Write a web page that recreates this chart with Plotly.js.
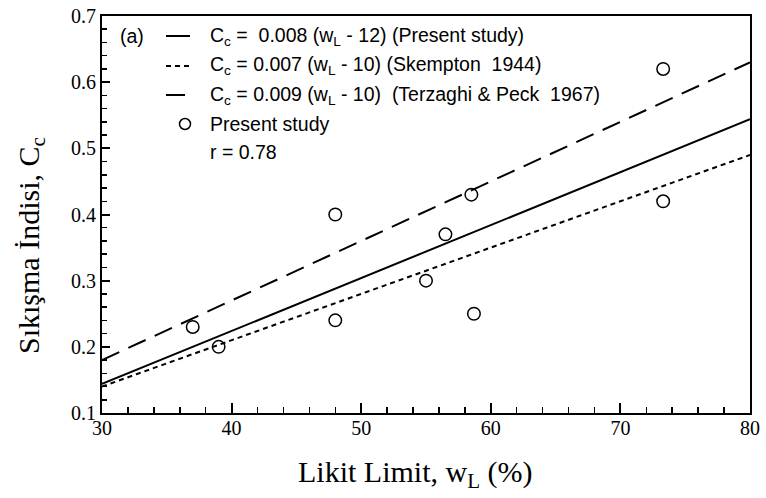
<!DOCTYPE html>
<html>
<head>
<meta charset="utf-8">
<script src="https://cdn.plot.ly/plotly-3.0.1.min.js"></script>
<style>
  html, body { margin: 0; padding: 0; background: #fff; }
  #chart { width: 766px; height: 498px; }
</style>
</head>
<body>
<div id="chart"></div>
<script>
// Measured points: liquid limit (%) vs compression index
const liquidLimit = [37, 39, 48, 48, 55, 56.5, 58.5, 58.7, 73.3, 73.3];
const compIndex   = [0.23, 0.20, 0.40, 0.24, 0.30, 0.37, 0.43, 0.25, 0.62, 0.42];

// Correlation lines, evaluated at the ends of the plotted range
const lineX        = [30, 80];
const presentY     = [0.144, 0.544];  // Cc = 0.008 (wL - 12)
const skemptonY    = [0.140, 0.490];  // Cc = 0.007 (wL - 10)
const terzaghiY    = [0.180, 0.630];  // Cc = 0.009 (wL - 10)

// Legend rows
const legendLabels = [
  'C<sub>c</sub> =  0.008 (w<sub>L</sub> - 12) (Present study)',
  'C<sub>c</sub> = 0.007 (w<sub>L</sub> - 10) (Skempton  1944)',
  'C<sub>c</sub> = 0.009 (w<sub>L</sub> - 10)  (Terzaghi &amp; Peck  1967)',
  'Present study',
  'r = 0.78'
];

const xTitle = 'Likit Limit, w<sub>L</sub> (%)';
const yTitle = 'Sıkışma İndisi, C<sub>c</sub>';

// Page geometry (pixels)
const FIG_W = 766, FIG_H = 498;
const M = { l: 102, r: 16, t: 16, b: 85 };
const PW = FIG_W - M.l - M.r;
const PH = FIG_H - M.t - M.b;
const px = v => (v - M.l) / PW;            // pixel x -> paper x
const py = v => (M.t + PH - v) / PH;       // pixel y -> paper y

const serif = 'Liberation Serif, Times New Roman, serif';
const sans  = 'Liberation Sans, Arial, Helvetica, sans-serif';

const SHORT_DASH = '5px,4px';
const LONG_DASH  = '19px,10px';

const traces = [
  { x: lineX, y: presentY, mode: 'lines', line: { color: '#000', width: 2 }, hoverinfo: 'skip' },
  { x: lineX, y: skemptonY, mode: 'lines', line: { color: '#000', width: 2, dash: SHORT_DASH }, hoverinfo: 'skip' },
  { x: lineX, y: terzaghiY, mode: 'lines', line: { color: '#000', width: 2, dash: LONG_DASH }, hoverinfo: 'skip' },
  { x: liquidLimit, y: compIndex, mode: 'markers',
    marker: { symbol: 'circle-open', size: 12.5, color: '#000', line: { width: 1.5, color: '#000' } } }
];

// Legend rows' vertical centres (pixels)
const rowY = [36, 66, 95, 124, 152];
const sampleX0 = 166, sampleX1 = 190, textX = 208;
const sampleDash = ['solid', SHORT_DASH, LONG_DASH];

const shapes = [];
sampleDash.forEach((d, i) => {
  shapes.push({
    type: 'line', xref: 'paper', yref: 'paper',
    x0: px(sampleX0), x1: px(sampleX1), y0: py(rowY[i]), y1: py(rowY[i]),
    line: { color: '#000', width: 2, dash: d }
  });
});
shapes.push({
  type: 'circle', xref: 'paper', yref: 'paper',
  xsizemode: 'pixel', ysizemode: 'pixel',
  xanchor: px(185), yanchor: py(rowY[3]),
  x0: -5.5, x1: 5.5, y0: -5.5, y1: 5.5,
  line: { color: '#000', width: 1.5 }
});

const annotations = legendLabels.map((t, i) => ({
  text: t, xref: 'paper', yref: 'paper',
  x: px(textX), y: py(rowY[i]), xanchor: 'left', yanchor: 'middle',
  showarrow: false, font: { family: sans, size: 19.5, color: '#000' }
}));
annotations.push({
  text: '(a)', xref: 'paper', yref: 'paper',
  x: px(118), y: py(rowY[0]), xanchor: 'left', yanchor: 'middle',
  showarrow: false, font: { family: sans, size: 19.5, color: '#000' }
});
// Axis titles
annotations.push({
  text: xTitle, xref: 'paper', yref: 'paper',
  x: px(415), y: py(474), xanchor: 'center', yanchor: 'middle',
  showarrow: false, font: { family: serif, size: 30, color: '#000' }
});
annotations.push({
  text: yTitle, xref: 'paper', yref: 'paper', textangle: -90,
  x: px(31), y: py(246), xanchor: 'center', yanchor: 'middle',
  showarrow: false, font: { family: serif, size: 30, color: '#000' }
});

const axisCommon = {
  showgrid: false, zeroline: false,
  showline: true, linecolor: '#000', linewidth: 2, mirror: true,
  ticks: 'inside', tickcolor: '#000', tickwidth: 2,
  tickfont: { family: serif, size: 20, color: '#000' },
  fixedrange: true
};

const layout = {
  width: FIG_W, height: FIG_H,
  margin: M,
  paper_bgcolor: '#fff', plot_bgcolor: '#fff',
  showlegend: false,
  xaxis: Object.assign({}, axisCommon, {
    range: [30, 80], dtick: 10, tick0: 30, ticklen: 10, ticklabelstandoff: -4,
    minor: { dtick: 2, ticks: 'inside', ticklen: 6, tickcolor: '#000', tickwidth: 1.5 }
  }),
  yaxis: Object.assign({}, axisCommon, {
    range: [0.1, 0.7], dtick: 0.1, tick0: 0.1, tickformat: '.1f', ticklen: 8,
    minor: { dtick: 0.02, ticks: 'inside', ticklen: 5, tickcolor: '#000', tickwidth: 1.5 }
  }),
  shapes: shapes,
  annotations: annotations
};

Plotly.newPlot('chart', traces, layout, { displayModeBar: false, staticPlot: true });
</script>
</body>
</html>
